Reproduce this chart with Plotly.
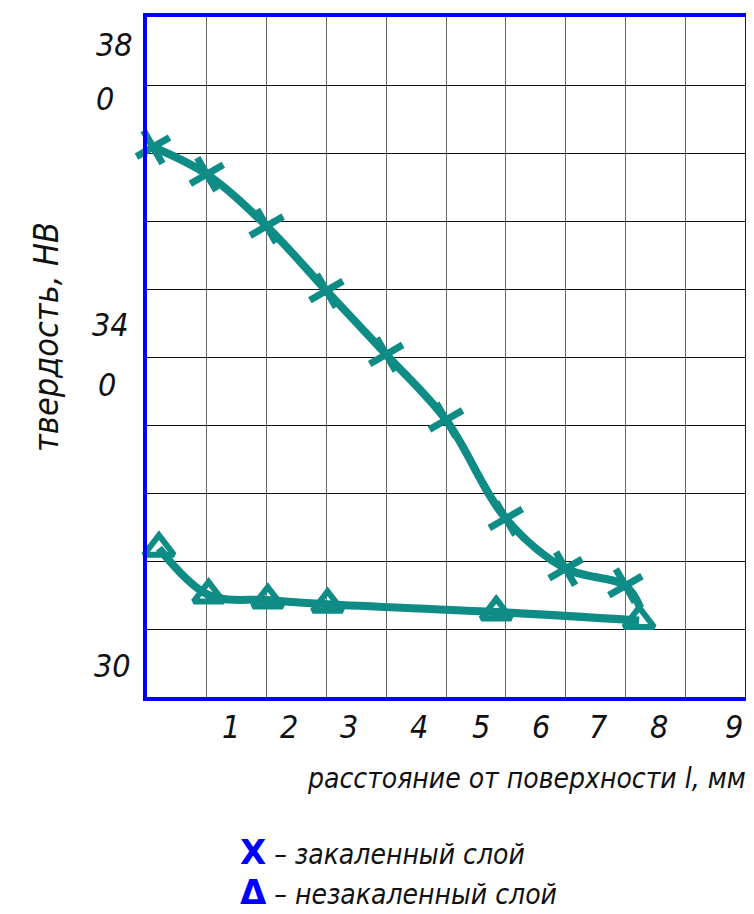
import plotly.graph_objects as go

# ---- data (x: distance from surface, grid units of the chart; y: hardness HB) ----
hard_x = [0.1, 1, 2, 3, 4, 5, 6, 7, 8, 8.25]
hard_y = [364.7, 361.5, 355.4, 347.8, 340.3, 332.6, 321.0, 315.1, 313.1, 310.5]
hard_marker = [1, 1, 1, 1, 1, 1, 1, 1, 1, 0]   # last point: line end only

soft_x = [0.2, 1.03, 2.02, 3.02, 5.84, 8.23]
soft_y = [317.5, 312.0, 311.4, 310.9, 310.0, 309.0]

x_tick_text = ["1", "2", "3", "4", "5", "6", "7", "8", "9"]
x_tick_pos = [1.41, 2.38, 3.38, 4.55, 5.58, 6.59, 7.55, 8.56, 9.82]

y_tick_parts = ["38", "0", "34", "0", "30"]
y_tick_pos = [376.7, 370.3, 343.8, 336.7, 303.7]
y_tick_dx = [-33, -42, -37, -40, -35]

x_title = "расстояние от поверхности l, мм"
y_title = "твердость, НВ"
legend_labels = ["– закаленный слой", "– незакаленный слой"]
legend_symbols = ["X", "Δ"]

TEAL = "#0E8C85"
BLUE = "#0000FF"
FONT = "DejaVu Sans Condensed, DejaVu Sans, sans-serif"

fig = go.Figure()

fig.add_trace(go.Scatter(
    x=hard_x, y=hard_y, mode="lines+markers",
    line=dict(color=TEAL, width=8, shape="spline", smoothing=1.0),
    marker=dict(symbol="x-thin-open", size=[27 * m for m in hard_marker], angle=15,
                opacity=1, color=TEAL, line=dict(color=TEAL, width=7)),
    opacity=1, cliponaxis=False, showlegend=False,
))

fig.add_trace(go.Scatter(
    x=soft_x, y=soft_y, mode="lines+markers",
    line=dict(color=TEAL, width=8, shape="spline", smoothing=1.0),
    marker=dict(symbol="triangle-up-open", size=26, opacity=1,
                color=TEAL, line=dict(color=TEAL, width=6)),
    cliponaxis=False, showlegend=False,
))

annotations = []
for t, p in zip(x_tick_text, x_tick_pos):
    annotations.append(dict(x=p, y=-0.044, xref="x", yref="paper", text=t,
                            showarrow=False, xanchor="center", yanchor="middle",
                            font=dict(family=FONT, size=32, color="#111", style="italic")))
for t, p, dx in zip(y_tick_parts, y_tick_pos, y_tick_dx):
    annotations.append(dict(x=0, y=p, xref="paper", yref="y", text=t, xshift=dx,
                            showarrow=False, xanchor="center", yanchor="middle",
                            font=dict(family=FONT, size=32, color="#111", style="italic")))

annotations.append(dict(x=1.005, y=-0.12, xref="paper", yref="paper", text=x_title,
                        showarrow=False, xanchor="right", yanchor="middle",
                        font=dict(family=FONT, size=28, color="#111", style="italic")))
annotations.append(dict(x=-0.17, y=0.53, xref="paper", yref="paper", text=y_title,
                        showarrow=False, xanchor="center", yanchor="middle", textangle=-90,
                        font=dict(family=FONT, size=34, color="#111", style="italic")))

for i, (sym, lab) in enumerate(zip(legend_symbols, legend_labels)):
    annotations.append(dict(
        x=0.152, y=-0.2277 - i * 0.0584, xref="paper", yref="paper",
        text=(f"<span style='color:{BLUE};font-weight:bold;font-style:normal;"
              f"font-family:DejaVu Sans;font-size:34px'>{sym}</span> {lab}"),
        showarrow=False, xanchor="left", yanchor="middle",
        font=dict(family=FONT, size=28, color="#111", style="italic")))

fig.update_layout(
    width=746, height=906,
    margin=dict(l=139, r=7, t=5, b=217),
    paper_bgcolor="white", plot_bgcolor="white",
    xaxis=dict(range=[0, 10], dtick=1, tick0=0, showgrid=True, gridcolor="#666",
               gridwidth=1, showticklabels=False, ticks="", zeroline=False,
               showline=True, linecolor=BLUE, linewidth=4, mirror=True, fixedrange=True),
    yaxis=dict(range=[300, 380], dtick=8, tick0=300, showgrid=True, gridcolor="#111",
               gridwidth=1, showticklabels=False, ticks="", zeroline=False,
               showline=True, linecolor=BLUE, linewidth=4, mirror=True, fixedrange=True),
    annotations=annotations,
)

fig.write_html("out.html")
